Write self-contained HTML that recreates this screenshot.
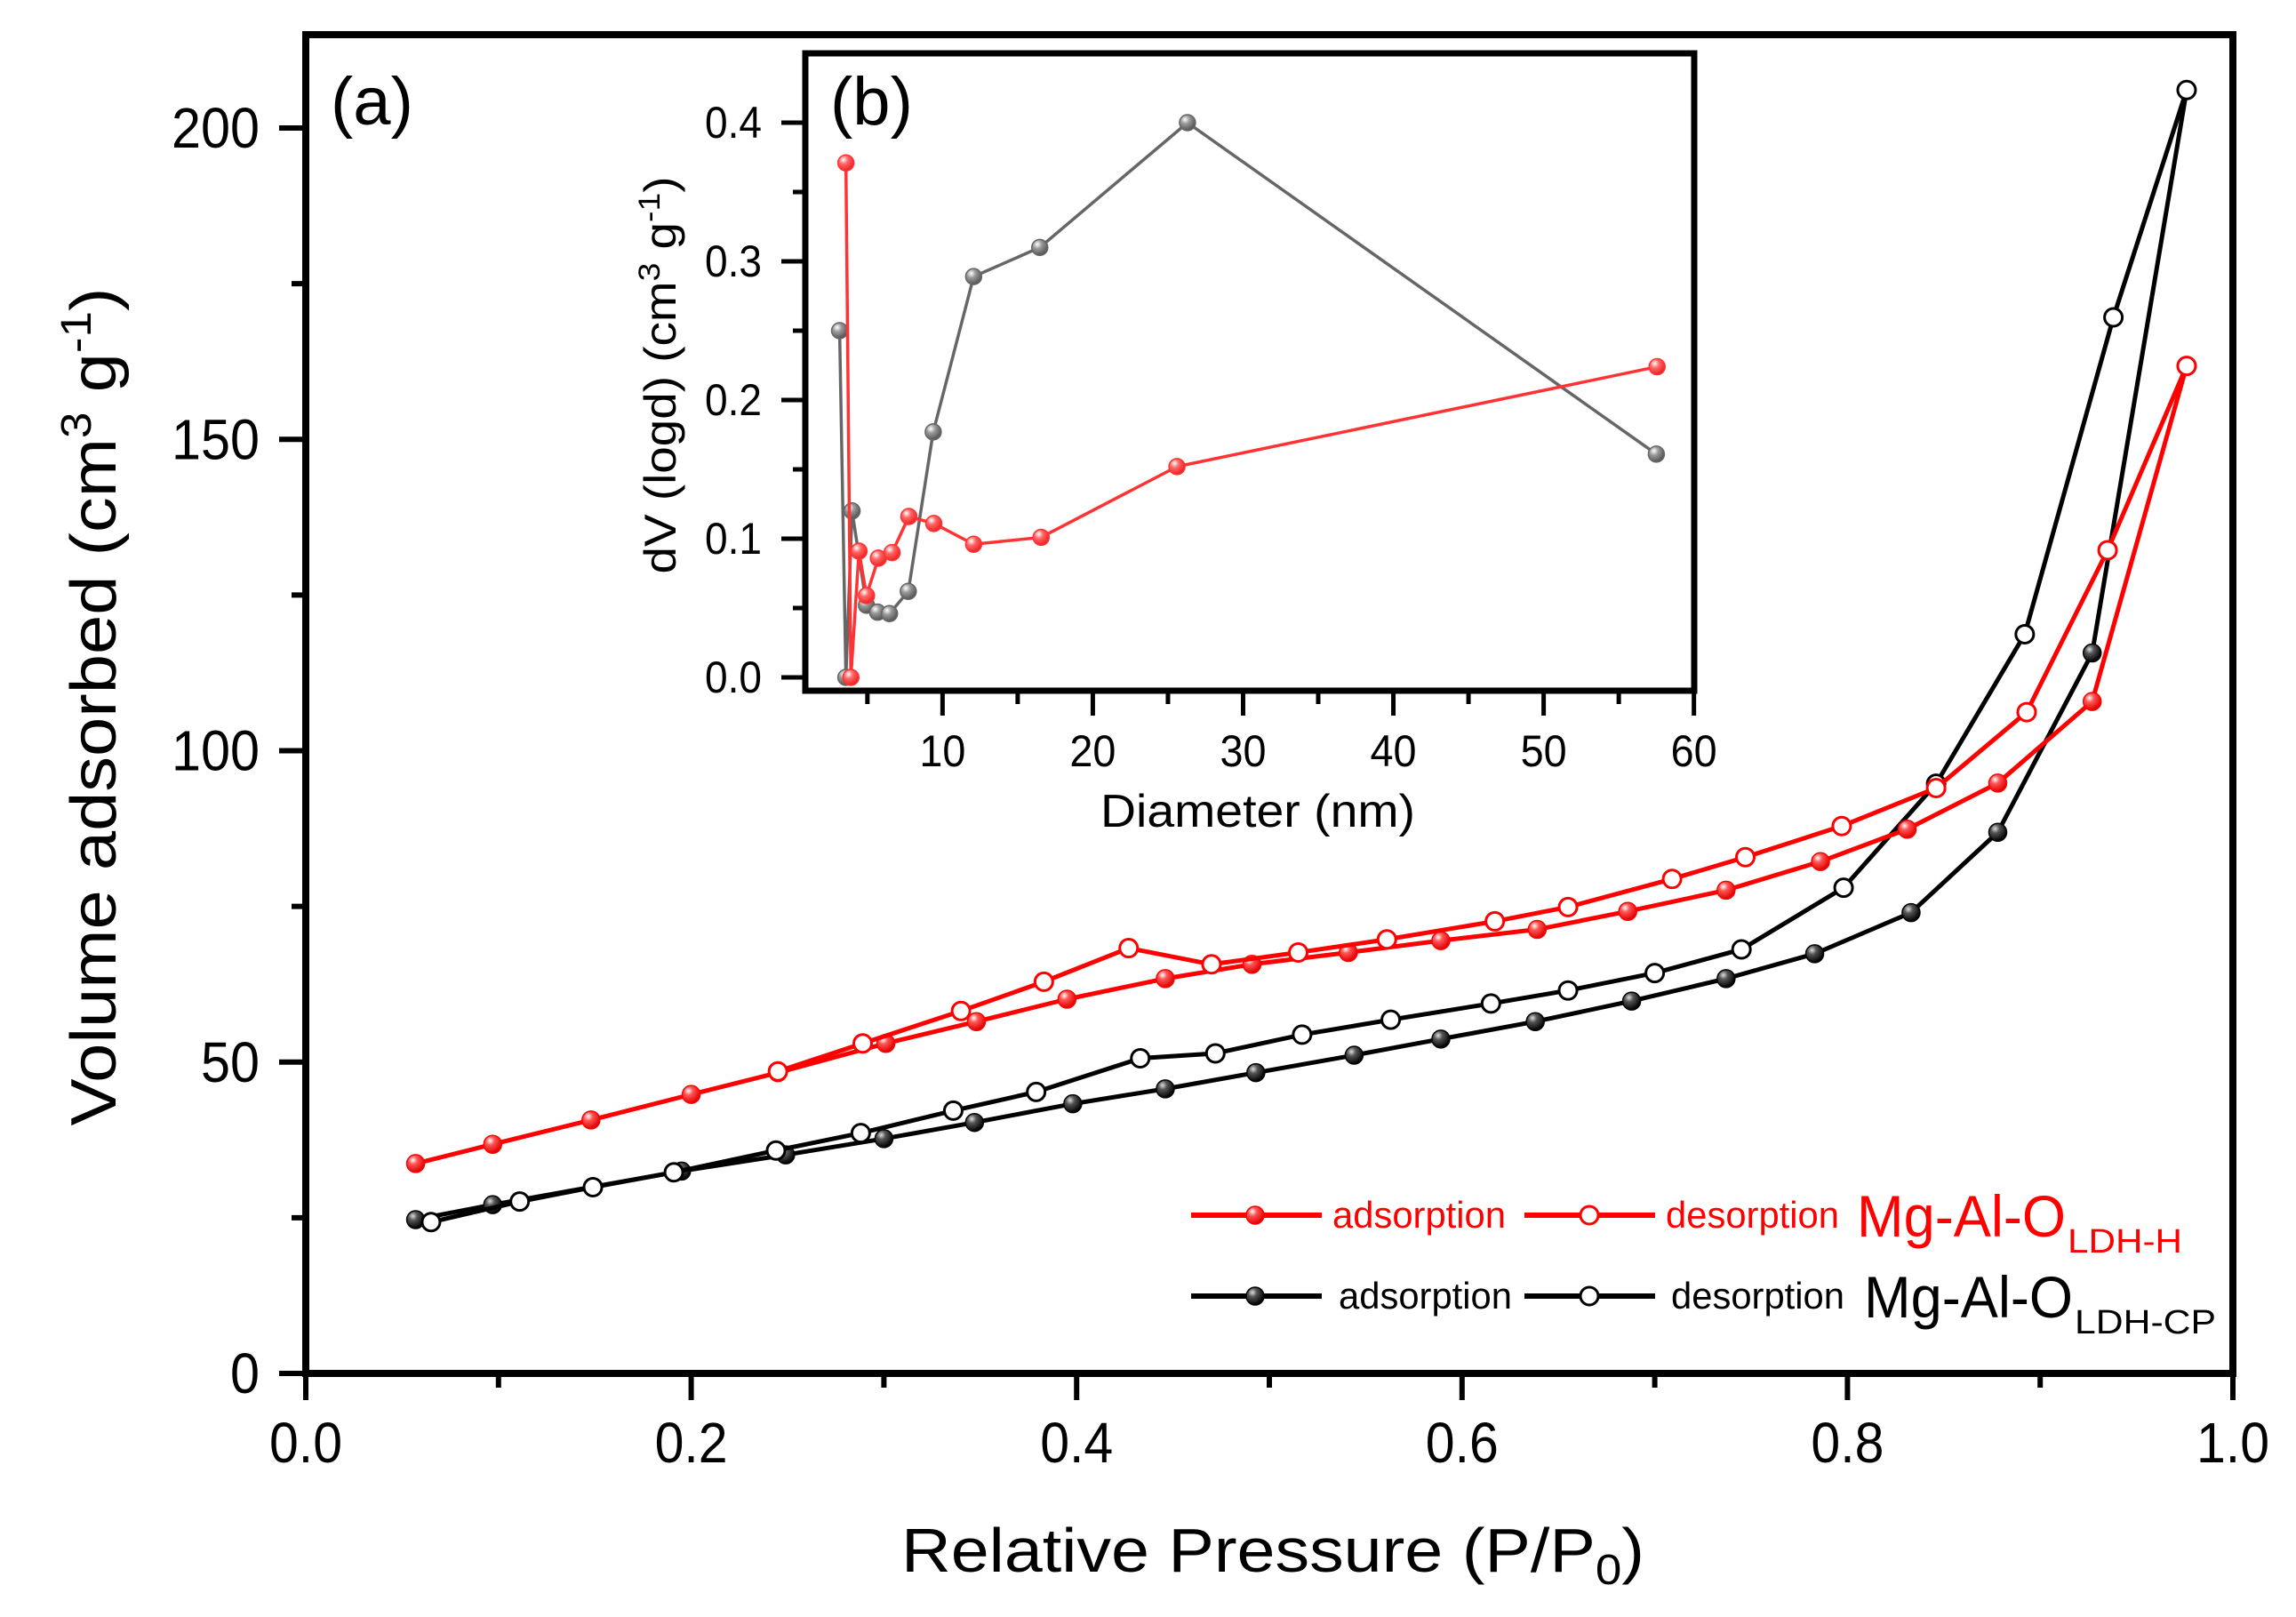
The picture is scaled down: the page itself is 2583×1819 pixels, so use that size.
<!DOCTYPE html>
<html><head><meta charset="utf-8"><style>
html,body{margin:0;padding:0;background:#fff;}
svg{display:block;font-family:"Liberation Sans",Arial,sans-serif;}
</style></head><body>
<svg id="chart" width="2583" height="1819" viewBox="0 0 2583 1819" xmlns="http://www.w3.org/2000/svg">
<defs>
<radialGradient id="gRed" cx="0.35" cy="0.3" r="0.7"><stop offset="0" stop-color="#fff"/><stop offset="0.35" stop-color="#ff5555"/><stop offset="1" stop-color="#e00000"/></radialGradient>
<radialGradient id="gBlk" cx="0.35" cy="0.3" r="0.7"><stop offset="0" stop-color="#ddd"/><stop offset="0.35" stop-color="#555"/><stop offset="1" stop-color="#000"/></radialGradient>
<radialGradient id="gGry" cx="0.35" cy="0.3" r="0.7"><stop offset="0" stop-color="#fff"/><stop offset="0.4" stop-color="#999"/><stop offset="1" stop-color="#555"/></radialGradient>
<radialGradient id="gIRed" cx="0.35" cy="0.3" r="0.7"><stop offset="0" stop-color="#fff"/><stop offset="0.4" stop-color="#ff6666"/><stop offset="1" stop-color="#ee2222"/></radialGradient>
</defs>
<g id="main"></g>
<g id="legend"></g>
<g id="inset"></g>
</svg>
<script>
// ---- Main chart data ----
const redAdsX = [0.057,0.097,0.148,0.200,0.245,0.301,0.348,0.395,0.446,0.491,0.541,0.589,0.639,0.686,0.737,0.786,0.831,0.878,0.927,0.976];
const redAdsY = [33.7,36.8,40.7,44.8,48.3,53.0,56.5,60.1,63.4,65.7,67.6,69.5,71.3,74.2,77.6,82.2,87.4,94.8,107.9,161.8];
const redDesX = [0.976,0.935,0.893,0.846,0.797,0.747,0.709,0.655,0.617,0.561,0.515,0.470,0.427,0.383,0.340,0.289,0.245];
const redDesY = [161.8,132.2,106.2,94.0,87.9,82.9,79.4,74.9,72.6,69.7,67.6,65.7,68.3,62.9,58.2,53.0,48.5];
const blkAdsX = [0.057,0.097,0.195,0.249,0.300,0.347,0.398,0.446,0.493,0.544,0.589,0.638,0.688,0.737,0.783,0.833,0.878,0.927,0.976];
const blkAdsY = [24.7,27.1,32.5,35.1,37.7,40.3,43.3,45.7,48.3,51.1,53.7,56.5,59.8,63.4,67.4,74.0,86.9,115.7,206.1];
const blkDesX = [0.976,0.938,0.892,0.846,0.798,0.745,0.700,0.655,0.615,0.563,0.517,0.472,0.433,0.379,0.336,0.288,0.244,0.191,0.149,0.111,0.065];
const blkDesY = [206.1,169.6,118.7,94.7,78.0,68.1,64.3,61.5,59.4,56.8,54.4,51.4,50.6,45.2,42.2,38.6,35.8,32.3,29.9,27.6,24.3];
const xTicks = [0.0,0.2,0.4,0.6,0.8,1.0];
const xTickLabels = ["0.0","0.2","0.4","0.6","0.8","1.0"];
const yTicks = [0,50,100,150,200];
const yTickLabels = ["0","50","100","150","200"];
// ---- Inset data ----
const grayX = [3.15,3.57,3.98,4.94,5.68,6.47,7.72,9.38,12.07,16.47,26.3,57.5];
const grayY = [0.250,0.000,0.120,0.052,0.047,0.046,0.062,0.177,0.289,0.310,0.400,0.161];
const pinkX = [3.57,3.90,4.44,4.94,5.73,6.64,7.76,9.42,12.07,16.56,25.6,57.55];
const pinkY = [0.371,0.000,0.091,0.059,0.086,0.090,0.116,0.111,0.096,0.101,0.152,0.224];
const ixTicks = [10,20,30,40,50,60];
const ixTickLabels = ["10","20","30","40","50","60"];
const iyTicks = [0,0.1,0.2,0.3,0.4];
const iyTickLabels = ["0.0","0.1","0.2","0.3","0.4"];

const NS="http://www.w3.org/2000/svg";
function mk(parent,tag,attrs,text){const e=document.createElementNS(NS,tag);for(const k in attrs)e.setAttribute(k,attrs[k]);if(text!==undefined)e.textContent=text;parent.appendChild(e);return e;}

const L=344,R=2512,T=39,B=1545;
const xs=v=>L+v*(R-L);
const ys=v=>B-v*7.005;
const main=document.getElementById('main');

function series(xsArr,ysArr,color,fill,name,r,sw,g,xf,yf){
  const grp=mk(g,'g',{});
  
  
  const pts=xsArr.map((x,i)=>xf(x)+','+yf(ysArr[i])).join(' ');
  const pl=mk(grp,'polyline',{points:pts,fill:'none',stroke:color,'stroke-width':sw,'stroke-linejoin':'round'});
  
  
  xsArr.forEach((x,i)=>{
    const c=mk(grp,'circle',{cx:xf(x),cy:yf(ysArr[i]),r:r,fill:fill,stroke:color,'stroke-width':fill==='#fff'?3:1.5});
    
    
  });
}
series(blkAdsX,blkAdsY,'#000','url(#gBlk)','black-adsorption',10,5,main,xs,ys);
series(blkDesX,blkDesY,'#000','#fff','black-desorption',10,5,main,xs,ys);
series(redAdsX,redAdsY,'#f00','url(#gRed)','red-adsorption',10,5,main,xs,ys);
series(redDesX,redDesY,'#f00','#fff','red-desorption',10,5,main,xs,ys);

const fr=mk(main,'rect',{x:L,y:T,width:R-L,height:B-T,fill:'none',stroke:'#000','stroke-width':8});


for(let v=0;v<=1.0001;v+=0.1){const maj=Math.abs(v*5-Math.round(v*5))<1e-6;
  const t=mk(main,'line',{x1:xs(v),x2:xs(v),y1:B,y2:B+(maj?30:16),stroke:'#000','stroke-width':6});
  
  }
xTicks.forEach((v,i)=>{const t=mk(main,'text',{x:xs(v),y:1645,'font-size':64,'text-anchor':'middle',textLength:82,lengthAdjust:'spacingAndGlyphs'},xTickLabels[i]);
  
  });
for(let v=0;v<=200;v+=25){const maj=v%50===0;
  const t=mk(main,'line',{x1:L,x2:L-(maj?30:16),y1:ys(v),y2:ys(v),stroke:'#000','stroke-width':6});
  
  }
yTicks.forEach((v,i)=>{const s=yTickLabels[i];const t=mk(main,'text',{x:292,y:ys(v)+22,'font-size':64,'text-anchor':'end',textLength:s.length*33,lengthAdjust:'spacingAndGlyphs'},s);
  
  });
const xt=mk(main,'text',{x:1432,y:1768,'font-size':70,'text-anchor':'middle',textLength:836,lengthAdjust:'spacingAndGlyphs'});


xt.innerHTML='Relative Pressure (P/P<tspan font-size="48" dy="14">0</tspan><tspan dy="-14">)</tspan>';
const yt=mk(main,'text',{x:0,y:0,'font-size':72,'text-anchor':'middle',textLength:943,lengthAdjust:'spacingAndGlyphs',transform:'translate(130,795) rotate(-90)'});


yt.innerHTML='Volume adsorbed  (cm<tspan font-size="48" dy="-28">3</tspan><tspan dy="28"> g</tspan><tspan font-size="48" dy="-28">-1</tspan><tspan dy="28">)</tspan>';
const pa=mk(main,'text',{x:372,y:140,'font-size':76},'(a)');



const lg=document.getElementById('legend');
function legRow(y,color,fill,ax,dx,mgx,sub,subLen,name){
  const g=mk(lg,'g',{});
  
  
  mk(g,'line',{x1:1340,x2:1487,y1:y,y2:y,stroke:color,'stroke-width':6});
  mk(g,'circle',{cx:1412,cy:y,r:10,fill:'url(#'+(color==='#f00'?'gRed':'gBlk')+')',stroke:color,'stroke-width':1.5});
  const a=mk(g,'text',{x:ax,y:y+14,'font-size':42,fill:color,textLength:195,lengthAdjust:'spacingAndGlyphs'},'adsorption');
  
  
  mk(g,'line',{x1:1715,x2:1862,y1:y,y2:y,stroke:color,'stroke-width':6});
  mk(g,'circle',{cx:1788,cy:y,r:10,fill:'#fff',stroke:color,'stroke-width':3});
  const d=mk(g,'text',{x:dx,y:y+14,'font-size':42,fill:color,textLength:195,lengthAdjust:'spacingAndGlyphs'},'desorption');
  
  
  const m=mk(g,'text',{x:mgx,y:y+24,'font-size':66,fill:color,textLength:235,lengthAdjust:'spacingAndGlyphs'},'Mg-Al-O');
  
  
  const s=mk(g,'text',{x:mgx+237,y:y+42,'font-size':38,fill:color,textLength:subLen,lengthAdjust:'spacingAndGlyphs'},sub);
  
  
}
legRow(1367,'#f00','url(#gRed)',1499,1874,2089,'LDH-H',129,'legend-entry-ldh-h');
legRow(1458,'#000','url(#gBlk)',1506,1880,2097,'LDH-CP',159,'legend-entry-ldh-cp');

const iL=906,iR=1906,iT=60,iB=777;
const ixs=v=>891.3+v*16.906;
const iys=v=>762-v*1560;
const ins=document.getElementById('inset');
mk(ins,'rect',{x:iL,y:iT,width:iR-iL,height:iB-iT,fill:'#fff',stroke:'none'});
series(grayX,grayY,'#666','url(#gGry)','inset-gray-series',9,3.5,ins,ixs,iys);
series(pinkX,pinkY,'#ff3333','url(#gIRed)','inset-red-series',9,3.5,ins,ixs,iys);
const ifr=mk(ins,'rect',{x:iL,y:iT,width:iR-iL,height:iB-iT,fill:'none',stroke:'#000','stroke-width':7});


for(let v=5;v<=60;v+=5){const maj=v%10===0;
  const t=mk(ins,'line',{x1:ixs(v),x2:ixs(v),y1:iB,y2:iB+(maj?28:15),stroke:'#000','stroke-width':5});
  
  }
ixTicks.forEach((v,i)=>{const t=mk(ins,'text',{x:ixs(v),y:862,'font-size':50,'text-anchor':'middle',textLength:52,lengthAdjust:'spacingAndGlyphs'},ixTickLabels[i]);
  
  });
for(let k=0;k<=8;k++){const v=k*0.05;const maj=k%2===0;
  const t=mk(ins,'line',{x1:iL,x2:iL-(maj?27:14),y1:iys(v),y2:iys(v),stroke:'#000','stroke-width':5});
  
  }
iyTicks.forEach((v,i)=>{const t=mk(ins,'text',{x:857,y:iys(v)+17,'font-size':50,'text-anchor':'end',textLength:64,lengthAdjust:'spacingAndGlyphs'},iyTickLabels[i]);
  
  });
const ixt=mk(ins,'text',{x:1415,y:930,'font-size':52,'text-anchor':'middle',textLength:354,lengthAdjust:'spacingAndGlyphs'},'Diameter (nm)');


const iyt=mk(ins,'text',{x:0,y:0,'font-size':50,'text-anchor':'middle',textLength:447,lengthAdjust:'spacingAndGlyphs',transform:'translate(760,422) rotate(-90)'});


iyt.innerHTML='dV (logd) (cm<tspan font-size="34" dy="-18">3</tspan><tspan dy="18"> g</tspan><tspan font-size="34" dy="-18">-1</tspan><tspan dy="18">)</tspan>';
const pb=mk(ins,'text',{x:934,y:140,'font-size':76},'(b)');


</script>
</body></html>
